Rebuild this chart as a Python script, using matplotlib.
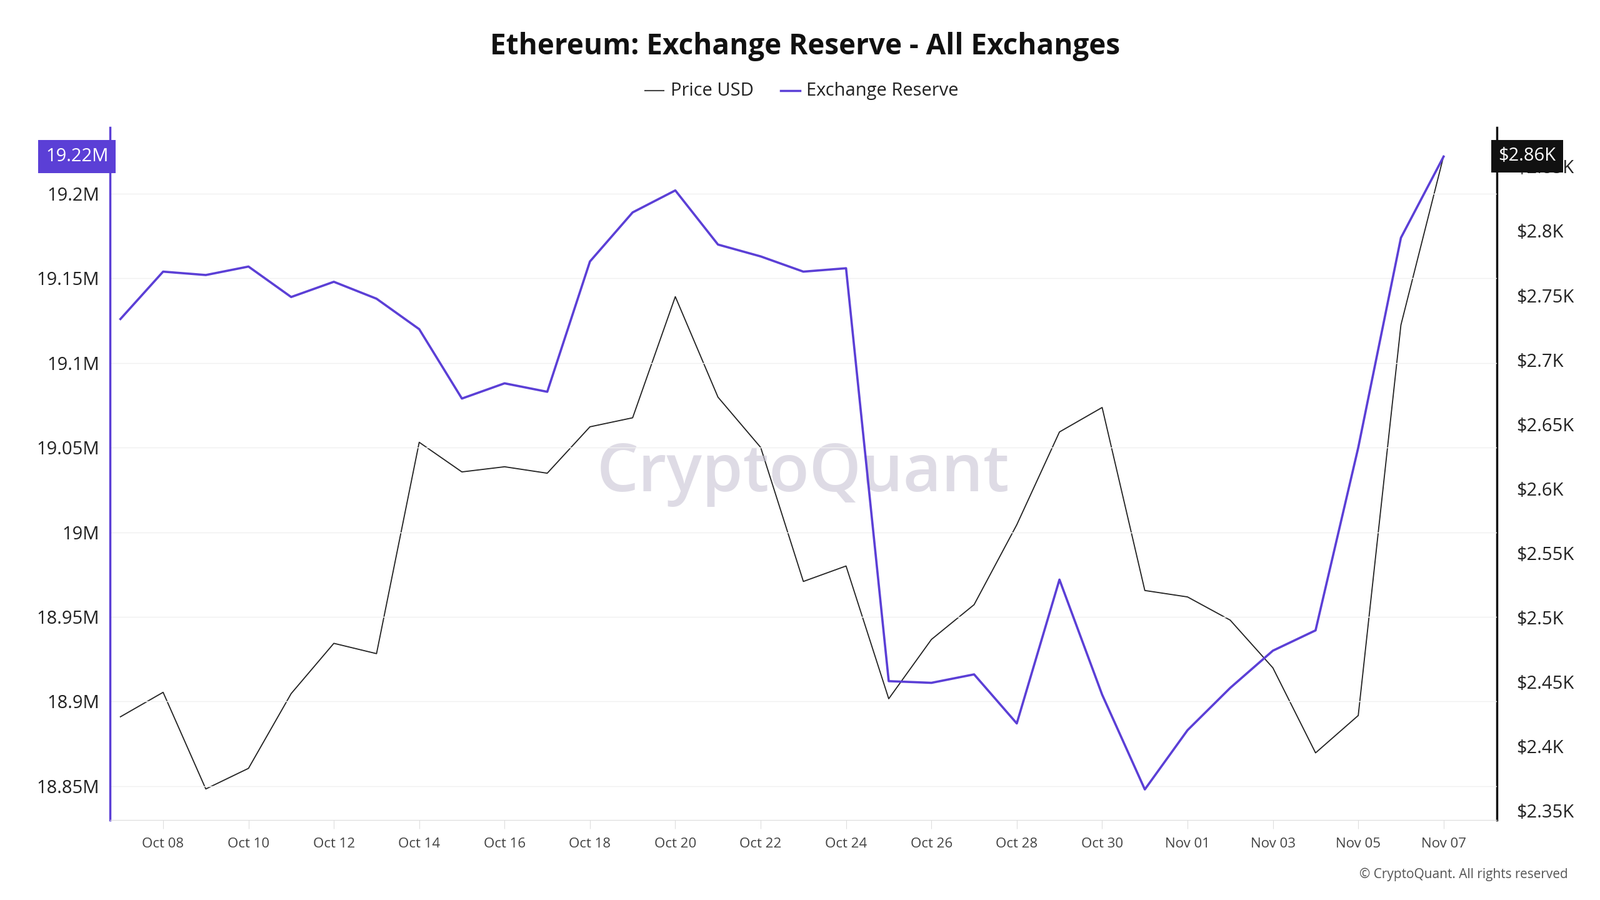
import matplotlib
matplotlib.use("Agg")
import matplotlib.pyplot as plt
from matplotlib.lines import Line2D
import pandas as pd

dates = pd.date_range("2024-10-07", "2024-11-07", freq="D")
reserve_m = [19.126, 19.154, 19.152, 19.157, 19.139, 19.148, 19.138, 19.120, 19.079, 19.088,
             19.083, 19.160, 19.189, 19.202, 19.170, 19.163, 19.154, 19.156, 18.912, 18.911,
             18.916, 18.887, 18.972, 18.904, 18.848, 18.883, 18.908, 18.930, 18.942, 19.050,
             19.174, 19.222]
price_k = [2.423, 2.442, 2.367, 2.383, 2.441, 2.480, 2.472, 2.636, 2.613, 2.617,
           2.612, 2.648, 2.655, 2.749, 2.671, 2.632, 2.528, 2.540, 2.437, 2.483,
           2.510, 2.572, 2.644, 2.663, 2.521, 2.516, 2.498, 2.461, 2.395, 2.424,
           2.727, 2.858]
left_ticks = [18.85, 18.9, 18.95, 19.0, 19.05, 19.1, 19.15, 19.2]
left_labels = ["18.85M", "18.9M", "18.95M", "19M", "19.05M", "19.1M", "19.15M", "19.2M"]
right_ticks = [2.35, 2.4, 2.45, 2.5, 2.55, 2.6, 2.65, 2.7, 2.75, 2.8, 2.85]
right_labels = ["$2.35K", "$2.4K", "$2.45K", "$2.5K", "$2.55K", "$2.6K", "$2.65K", "$2.7K", "$2.75K", "$2.8K", "$2.85K"]

plt.rcParams["font.family"] = "Open Sans"
PURPLE = "#5b3fd6"
fig = plt.figure(figsize=(25.6, 14.4), dpi=100)
ax = fig.add_axes([0.0686, 0.089, 0.8670, 0.769])
ax2 = ax.twinx()

ax.plot(dates, reserve_m, color=PURPLE, lw=2.6, zorder=3)
ax2.plot(dates, price_k, color="#222222", lw=1.3, zorder=2)
ax.set_zorder(ax2.get_zorder() + 1)
ax.patch.set_visible(False)

ax.set_ylim(18.830, 19.239)
ax2.set_ylim(2.343, 2.880)
ax.set_xlim(pd.Timestamp("2024-10-06 18:00"), pd.Timestamp("2024-11-08 06:00"))
ax.set_yticks(left_ticks, left_labels)
ax2.set_yticks(right_ticks, right_labels)
ticks = [d for d in dates if (d.month == 10 and d.day % 2 == 0) or (d.month == 11 and d.day % 2 == 1)]
ax.set_xticks(ticks, [d.strftime("%b %d") for d in ticks])
ax.grid(axis="y", color="#f0f0f0", lw=1)
ax.tick_params(axis="x", labelsize=16, colors="#444444", length=10, color="#dddddd", pad=10)
ax.tick_params(axis="y", labelsize=21, colors="#222222", length=0, pad=12)
ax2.tick_params(axis="y", labelsize=21, colors="#222222", length=0, pad=22)
for a in (ax, ax2):
    a.spines["top"].set_visible(False)
    a.spines["bottom"].set_color("#dddddd")
ax.spines["right"].set_visible(False)
ax2.spines["left"].set_visible(False)
ax.spines["left"].set_color(PURPLE)
ax.spines["left"].set_linewidth(2.5)
ax2.spines["right"].set_color("#111111")
ax2.spines["right"].set_linewidth(2.5)

fig.text(0.503, 0.948, "Ethereum: Exchange Reserve - All Exchanges", ha="center", va="center",
         fontsize=33, fontweight="bold", color="#111111")
ly = 0.899
fig.add_artist(Line2D([0.403, 0.415], [ly, ly], color="#444444", lw=1.5))
fig.text(0.419, ly, "Price USD", ha="left", va="center", fontsize=21, color="#222222")
fig.add_artist(Line2D([0.488, 0.500], [ly, ly], color=PURPLE, lw=2.5))
fig.text(0.504, ly, "Exchange Reserve", ha="left", va="center", fontsize=21, color="#222222")

ax.text(0.5, 0.5, "CryptoQuant", transform=ax.transAxes, ha="center", va="center",
        fontsize=76, color="#c8c4d4", alpha=0.6, fontweight="medium", zorder=0)
fig.text(0.98, 0.028, "© CryptoQuant. All rights reserved", ha="right", va="center",
         fontsize=15, color="#555555")

ax.text(-0.001, reserve_m[-1], f"{reserve_m[-1]:.2f}M", transform=ax.get_yaxis_transform(),
        ha="right", va="center", fontsize=21, color="white",
        bbox=dict(boxstyle="square,pad=0.4", fc=PURPLE, ec="none"), zorder=5, clip_on=False)
ax2.text(1.001, price_k[-1], f"${price_k[-1]:.2f}K", transform=ax2.get_yaxis_transform(),
         ha="left", va="center", fontsize=21, color="white",
         bbox=dict(boxstyle="square,pad=0.4", fc="#111111", ec="none"), zorder=5, clip_on=False)

fig.savefig("out.png", dpi=100, facecolor="white")
